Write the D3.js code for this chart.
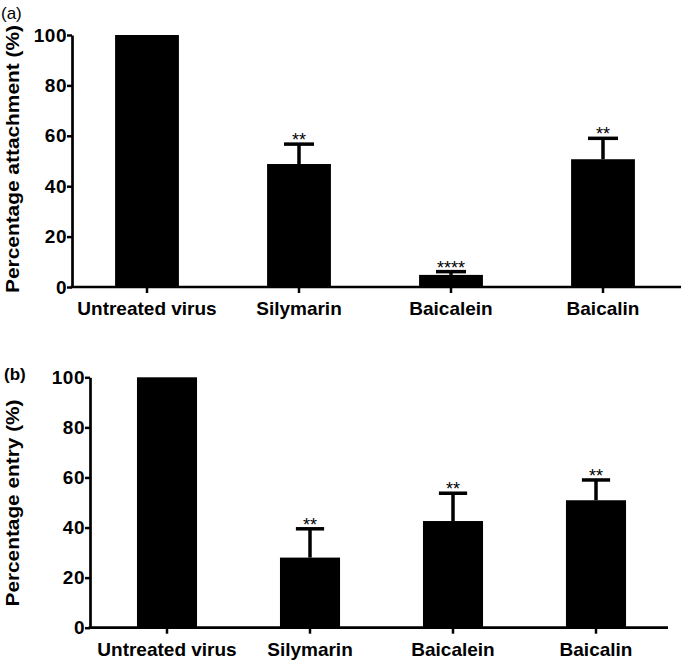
<!DOCTYPE html>
<html><head><meta charset="utf-8">
<script src="https://cdn.jsdelivr.net/npm/d3@7/dist/d3.min.js"></script>
<style>
html,body{margin:0;padding:0;background:#fff;}
svg{display:block;font-family:"Liberation Sans",Arial,sans-serif;}
</style></head>
<body>
<svg id="chart" width="685" height="663"></svg>
<script>
// ---- data ----
const categories = ["Untreated virus", "Silymarin", "Baicalein", "Baicalin"];
const attachment = [100, 48.8, 4.8, 50.7];
const attachmentErr = [0, 7.9, 1.3, 8.3];
const attachmentSig = ["", "**", "****", "**"];
const entry = [100, 28, 42.6, 50.9];
const entryErr = [0, 11.5, 11.1, 8.1];
const entrySig = ["", "**", "**", "**"];
const yTicks = [0, 20, 40, 60, 80, 100];
const panelLabels = ["(a)", "(b)"];
const yTitles = ["Percentage attachment (%)", "Percentage entry (%)"];

const svg = d3.select("#chart");

const panels = [
  {values: attachment, err: attachmentErr, sig: attachmentSig, title: yTitles[0], label: panelLabels[0],
   xRange: [71, 679], axisX0: 72, axisX1: 681, yRange: [287, 35], titleLen: 268, titleY: 159,
   labelPos: [1, 19], labelWeight: "normal"},
  {values: entry, err: entryErr, sig: entrySig, title: yTitles[1], label: panelLabels[1],
   xRange: [95.5, 667.5], axisX0: 90, axisX1: 668, yRange: [627.7, 377.3], titleLen: 207, titleY: 503,
   labelPos: [4, 380], labelWeight: "bold"}
];

panels.forEach(p => {
  const g = svg.append("g");
  const x = d3.scaleBand().domain(categories).range(p.xRange).paddingInner(0.58).paddingOuter(0.29);
  const y = d3.scaleLinear().domain([0, 100]).range(p.yRange);
  const bw = x.bandwidth();

  // bars
  g.selectAll("rect.bar").data(categories).join("rect")
    .attr("x", d => x(d)).attr("width", bw)
    .attr("y", (d, i) => y(p.values[i]))
    .attr("height", (d, i) => y(0) - y(p.values[i]))
    .attr("fill", "#000");

  // error bars (upper)
  const capW = bw * 0.47;
  categories.forEach((c, i) => {
    if (!p.err[i]) return;
    const cx = x(c) + bw / 2;
    const top = y(p.values[i] + p.err[i]);
    g.append("line").attr("x1", cx).attr("x2", cx)
      .attr("y1", y(p.values[i])).attr("y2", top)
      .attr("stroke", "#000").attr("stroke-width", 3.5);
    g.append("line").attr("x1", cx - capW / 2).attr("x2", cx + capW / 2)
      .attr("y1", top).attr("y2", top)
      .attr("stroke", "#000").attr("stroke-width", 3.5);
    if (p.sig[i]) {
      g.append("text").attr("x", cx).attr("y", top + 2)
        .attr("text-anchor", "middle").attr("font-size", 18)
        .attr("fill", "#000").text(p.sig[i]);
    }
  });

  // y axis
  const yAxis = g.append("g").attr("transform", `translate(${p.axisX0},0)`)
    .call(d3.axisLeft(y).tickValues(yTicks).tickSize(5).tickSizeOuter(0).tickPadding(0));
  yAxis.select(".domain").attr("stroke", "#000").attr("stroke-width", 2.7);
  yAxis.selectAll(".tick line").attr("stroke", "#000").attr("stroke-width", 2.5);
  yAxis.selectAll(".tick text").attr("font-size", 19).attr("font-weight", "bold")
    .attr("fill", "#000").attr("letter-spacing", "0.5px")
    .attr("font-family", "'Liberation Sans', Arial, sans-serif");

  // x axis
  g.append("line").attr("x1", p.axisX0 - 1.3).attr("x2", p.axisX1)
    .attr("y1", y(0)).attr("y2", y(0)).attr("stroke", "#000").attr("stroke-width", 2.7);
  categories.forEach(c => {
    const cx = x(c) + bw / 2;
    g.append("line").attr("x1", cx).attr("x2", cx).attr("y1", y(0)).attr("y2", y(0) + 6)
      .attr("stroke", "#000").attr("stroke-width", 2.5);
    g.append("text").attr("x", cx).attr("y", y(0) + 28)
      .attr("text-anchor", "middle").attr("font-size", 19).attr("font-weight", "bold")
      .attr("fill", "#000").text(c);
  });

  // y title
  g.append("text")
    .attr("transform", `translate(19,${p.titleY}) rotate(-90)`)
    .attr("text-anchor", "middle").attr("font-size", 19).attr("font-weight", "bold")
    .attr("textLength", p.titleLen).attr("lengthAdjust", "spacingAndGlyphs")
    .attr("fill", "#000").text(p.title);

  // panel label
  g.append("text").attr("x", p.labelPos[0]).attr("y", p.labelPos[1])
    .attr("font-size", 17).attr("font-weight", p.labelWeight)
    .attr("fill", "#000").text(p.label);
});
</script>
</body></html>
